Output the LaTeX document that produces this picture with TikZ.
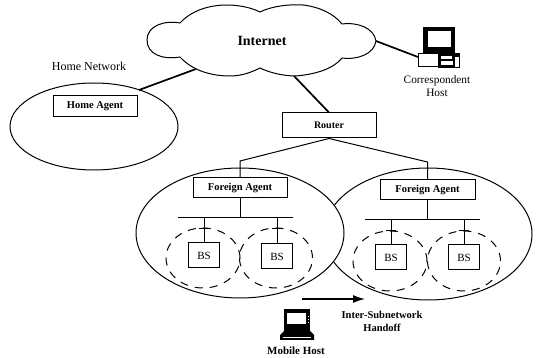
\documentclass[tikz,border=0pt]{standalone}
\usepackage{fontspec}
\setmainfont{Liberation Serif}
\usetikzlibrary{shapes.geometric,arrows.meta}
\tikzset{
  net/.style={draw,line width=1pt,ellipse,inner sep=0pt,fill=white},
  cell/.style={draw,line width=1pt,ellipse,inner sep=0pt,dash pattern=on 8pt off 7pt},
  agent/.style={draw,line width=1pt,fill=white,inner sep=0pt,font=\fontsize{10.5}{12}\selectfont\bfseries},
  bs/.style={agent,minimum width=31pt,minimum height=25pt,font=\fontsize{11}{12}\selectfont},
  lbl/.style={inner sep=0pt,align=center,font=\fontsize{10.5}{13.5}\selectfont\bfseries},
  link/.style={line width=1.7pt},
  wire/.style={line width=1pt},
}
\begin{document}
\begin{tikzpicture}[x=1pt,y=-1pt]
\useasboundingbox (0,0) rectangle (539,358);
% cloud
\draw[line width=1pt,fill=white]
  (180,23) .. controls (192,10) and (210,5) .. (227,5)
  .. controls (240,5) and (252,8) .. (260,12)
  .. controls (272,6) and (290,4) .. (303,5)
  .. controls (320,7) and (334,14) .. (342,24)
  .. controls (358,22) and (374,28) .. (376,41)
  .. controls (374,54) and (358,60) .. (342,58)
  .. controls (334,68) and (318,74) .. (296,76)
  .. controls (282,76) and (268,72) .. (260,68)
  .. controls (252,72) and (242,76) .. (230,76)
  .. controls (210,76) and (192,70) .. (180,57)
  .. controls (162,60) and (147,54) .. (147,40)
  .. controls (147,26) and (164,20) .. (180,23) -- cycle;
\node[inner sep=0pt,font=\fontsize{14}{16}\selectfont\bfseries] (inet) at (262,41) {Internet};
\coordinate (cloudW) at (196,69);
\coordinate (cloudS) at (294,76);
\coordinate (cloudE) at (376,41);
% home network
\node[net,minimum width=168pt,minimum height=87pt] (home) at (94,126.5) {};
\node[inner sep=0pt,font=\fontsize{12}{14}\selectfont] (homelbl) at (89,66) {Home Network};
\node[agent,minimum width=84pt,minimum height=21pt] (ha) at (95,106.5) {Home Agent};
\coordinate (homeNE) at (139,90);
\draw[link] (cloudW) -- (homeNE);
% router
\node[agent,minimum width=94pt,minimum height=25pt,font=\fontsize{10}{12}\selectfont\bfseries] (router) at (329,125.5) {Router};
\draw[link] (cloudS) -- (router.north);
% foreign networks
\node[net,minimum width=208pt,minimum height=132pt] (netR) at (428,234) {};
\node[net,minimum width=208pt,minimum height=130pt] (netL) at (240,233) {};
\node[agent,minimum width=94pt,minimum height=20pt] (faL) at (240,188) {Foreign Agent};
\node[agent,minimum width=95pt,minimum height=20pt] (faR) at (427.5,190) {Foreign Agent};
\draw[wire] (router.south) -- (240,161) -- (faL.north);
\draw[wire] (router.south) -- (427.5,162) -- (faR.north);
% buses
\coordinate (busLa) at (178,218); \coordinate (busLb) at (293,218);
\coordinate (busRa) at (365,220); \coordinate (busRb) at (480,220);
\draw[wire] (busLa) -- (busLb);
\draw[wire] (busRa) -- (busRb);
\draw[wire] (faL.south) -- (240,218);
\draw[wire] (faR.south) -- (427.5,220);
% cells
\node[cell,minimum width=74pt,minimum height=60pt] (c1) at (203,258) {};
\node[cell,minimum width=73pt,minimum height=60pt] (c2) at (276,258) {};
\node[cell,minimum width=74pt,minimum height=60pt] (c3) at (390,261) {};
\node[cell,minimum width=73pt,minimum height=60pt] (c4) at (464,261) {};
\node[bs] (b1) at (204,255.5) {BS};
\node[bs] (b2) at (277,256.5) {BS};
\node[bs] (b3) at (391,257.5) {BS};
\node[bs] (b4) at (464,257.5) {BS};
\foreach \n/\y in {b1/218,b2/218,b3/220,b4/220}{
  \draw[wire] (\n.north) -- (\n.north |- 0,\y);
  \draw[wire] ([xshift=-5pt]\n.north |- 0,\y+11) -- ([xshift=5pt]\n.north |- 0,\y+11);
}
% handoff arrow
\coordinate (hoA) at (302,299); \coordinate (hoB) at (365,299);
\draw[line width=1.5pt,-{Latex[length=12pt,width=8pt]}] (hoA) -- (hoB);
\node[lbl] (ho) at (382,321.5) {Inter-Subnetwork\\Handoff};
% mobile host
\fill (284,309) rectangle (310,335);
\fill[white] (287,313) rectangle (306,324);
\fill (280,335) -- (284,331) -- (310,331) -- (314,335) -- (314,340) -- (280,340) -- cycle;
\draw[white,line width=.7pt] (283,337) -- (311,337);
\draw[white,line width=.8pt,dotted] (308,316) -- (308,323);
\node[lbl,font=\fontsize{11}{13}\selectfont\bfseries] (mh) at (296,351) {Mobile Host};
% correspondent host
\fill (423,27) rectangle (455,53);
\fill[white] (428,31) rectangle (451,47);
\draw[line width=1pt,fill=white] (418,54) rectangle (438,67);
\fill (438,53) rectangle (460,68);
\fill[white] (441,56) rectangle (452,59);
\fill[white] (441,61) rectangle (453,65);
\fill[white] (455,57) rectangle (459,67);
\coordinate (pc) at (418,57);
\draw[link] (cloudE) -- (pc);
\node[lbl,font=\fontsize{11.3}{13.5}\selectfont] (ch) at (437,86) {Correspondent\\Host};
\end{tikzpicture}
\end{document}
